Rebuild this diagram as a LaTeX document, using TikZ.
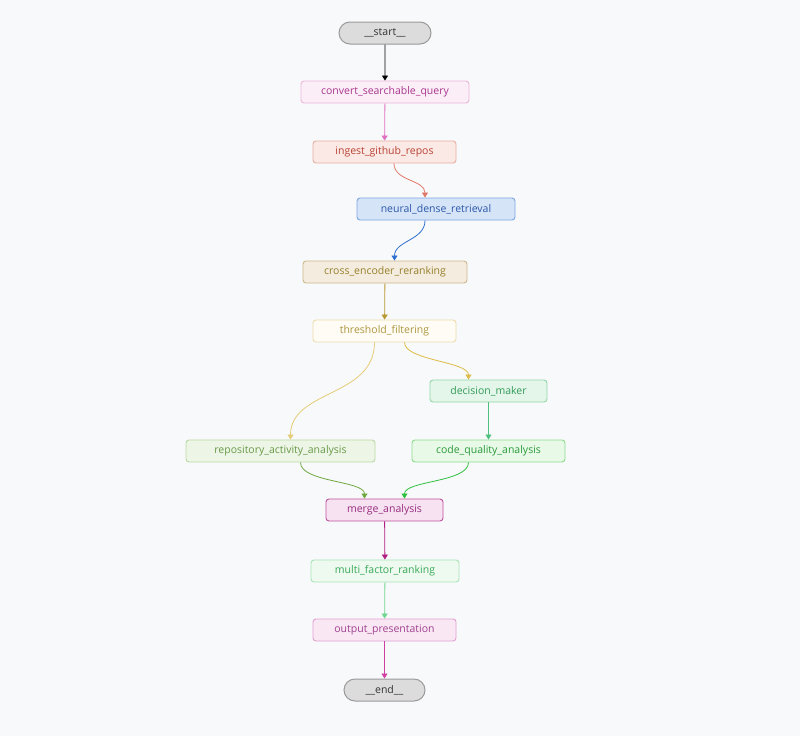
\documentclass[tikz,border=0pt]{standalone}
\usepackage{fontspec}
\setmainfont{Open Sans}
\usetikzlibrary{arrows.meta,shapes.misc}
\definecolor{bg}{HTML}{F8F9FB}
\definecolor{gr}{HTML}{DCDCDD}
\definecolor{cvD}{HTML}{EDB5DA}\definecolor{cvF}{HTML}{FBEEF6}\definecolor{cvT}{HTML}{A8368F}
\definecolor{igD}{HTML}{E8ADA2}\definecolor{igF}{HTML}{FBE9E6}\definecolor{igT}{HTML}{B84232}
\definecolor{nrD}{HTML}{7CA6E2}\definecolor{nrF}{HTML}{D6E4F8}\definecolor{nrT}{HTML}{2A58A8}
\definecolor{crD}{HTML}{CDB88A}\definecolor{crF}{HTML}{F3ECDF}\definecolor{crT}{HTML}{98802A}
\definecolor{thD}{HTML}{ECDCAB}\definecolor{thF}{HTML}{FEFCF4}\definecolor{thT}{HTML}{AE9640}
\definecolor{dmD}{HTML}{94D6A8}\definecolor{dmF}{HTML}{E4F6EA}\definecolor{dmT}{HTML}{329A58}
\definecolor{raD}{HTML}{BAD9A2}\definecolor{raF}{HTML}{EDF5E6}\definecolor{raT}{HTML}{689A48}
\definecolor{cqD}{HTML}{8EDC8E}\definecolor{cqF}{HTML}{E8F9E8}\definecolor{cqT}{HTML}{2A9A3A}
\definecolor{mgD}{HTML}{C050A0}\definecolor{mgF}{HTML}{F6E2F0}\definecolor{mgT}{HTML}{982C80}
\definecolor{mfD}{HTML}{A8E4B8}\definecolor{mfF}{HTML}{EEFAF0}\definecolor{mfT}{HTML}{38A858}
\definecolor{opD}{HTML}{E0A0D0}\definecolor{opF}{HTML}{F9E8F4}\definecolor{opT}{HTML}{A04090}
\definecolor{e1}{HTML}{E070C0}\definecolor{e2}{HTML}{E07868}\definecolor{e3}{HTML}{3070D0}
\definecolor{e4}{HTML}{B89830}\definecolor{e5}{HTML}{E4CC78}\definecolor{e6}{HTML}{DCBC48}
\definecolor{e7}{HTML}{50C080}\definecolor{e8}{HTML}{70A840}\definecolor{e9}{HTML}{30C040}
\definecolor{e10}{HTML}{B02080}\definecolor{e11}{HTML}{70D890}\definecolor{e12}{HTML}{D040A0}
\tikzset{
  box/.style n args={3}{draw=#1, fill=#2, text=#3, rounded corners=3pt, line width=0.9pt, minimum height=22pt, inner sep=0pt, font=\fontsize{10.5}{12}\selectfont},
  pill/.style={draw=#1!70!black, fill=#1, rounded rectangle, line width=1pt, minimum height=22pt, inner sep=0pt, font=\fontsize{10.5}{12}\selectfont, text=black!80},
  edge/.style={draw=#1, line width=0.8pt, -{Triangle[width=6pt,length=5pt]}},
}
\begin{document}
\begin{tikzpicture}[x=1pt,y=-1pt]
\useasboundingbox[fill=bg] (0,0) rectangle (800,736);
\node[pill=gr, minimum width=92pt] (start) at (385,33) {\_\_start\_\_};
\node[box={cvD}{cvF}{cvT}, minimum width=168pt] (convert) at (385,92) {convert\_searchable\_query};
\node[box={igD}{igF}{igT}, minimum width=143pt] (ingest) at (384.5,152) {ingest\_github\_repos};
\node[box={nrD}{nrF}{nrT}, minimum width=158pt] (neural) at (436,209) {neural\_dense\_retrieval};
\node[box={crD}{crF}{crT}, minimum width=164pt] (cross) at (385,272) {cross\_encoder\_reranking};
\node[box={thD}{thF}{thT}, minimum width=143pt] (thresh) at (384.5,331) {threshold\_filtering};
\node[box={dmD}{dmF}{dmT}, minimum width=117pt] (decision) at (488.5,391) {decision\_maker};
\node[box={raD}{raF}{raT}, minimum width=189pt] (repo) at (280.5,451) {repository\_activity\_analysis};
\node[box={cqD}{cqF}{cqT}, minimum width=153pt] (code) at (488.5,451) {code\_quality\_analysis};
\node[box={mgD}{mgF}{mgT}, minimum width=117pt] (merge) at (384.5,510) {merge\_analysis};
\node[box={mfD}{mfF}{mfT}, minimum width=148pt] (multi) at (385,571) {multi\_factor\_ranking};
\node[box={opD}{opF}{opT}, minimum width=143pt] (output) at (384.5,630) {output\_presentation};
\node[pill=gr, minimum width=81pt] (end) at (384.5,690) {\_\_end\_\_};

\draw[edge=black] (start) -- (convert);
\draw[edge=e1] (convert) -- (ingest);
\draw[edge=e2] ([xshift=9.5pt]ingest.south) .. controls +(0,18) and +(0,-18) .. ([xshift=-11pt]neural.north);
\draw[edge=e3] ([xshift=-11pt]neural.south) .. controls +(0,20) and +(0,-20) .. ([xshift=9.5pt]cross.north);
\draw[edge=e4] (cross) -- (thresh);
\draw[edge=e5] ([xshift=-10pt]thresh.south) .. controls +(0,55) and +(0,-50) .. ([xshift=10pt]repo.north);
\draw[edge=e6] ([xshift=20pt]thresh.south) .. controls +(0,18) and +(0,-18) .. ([xshift=-20pt]decision.north);
\draw[edge=e7] (decision) -- (code);
\draw[edge=e8] ([xshift=20pt]repo.south) .. controls +(0,20) and +(0,-18) .. ([xshift=-20pt]merge.north);
\draw[edge=e9] ([xshift=-20pt]code.south) .. controls +(0,20) and +(0,-18) .. ([xshift=20pt]merge.north);
\draw[edge=e10] (merge) -- (multi);
\draw[edge=e11] (multi) -- (output);
\draw[edge=e12] (output) -- (end);
\end{tikzpicture}
\end{document}
